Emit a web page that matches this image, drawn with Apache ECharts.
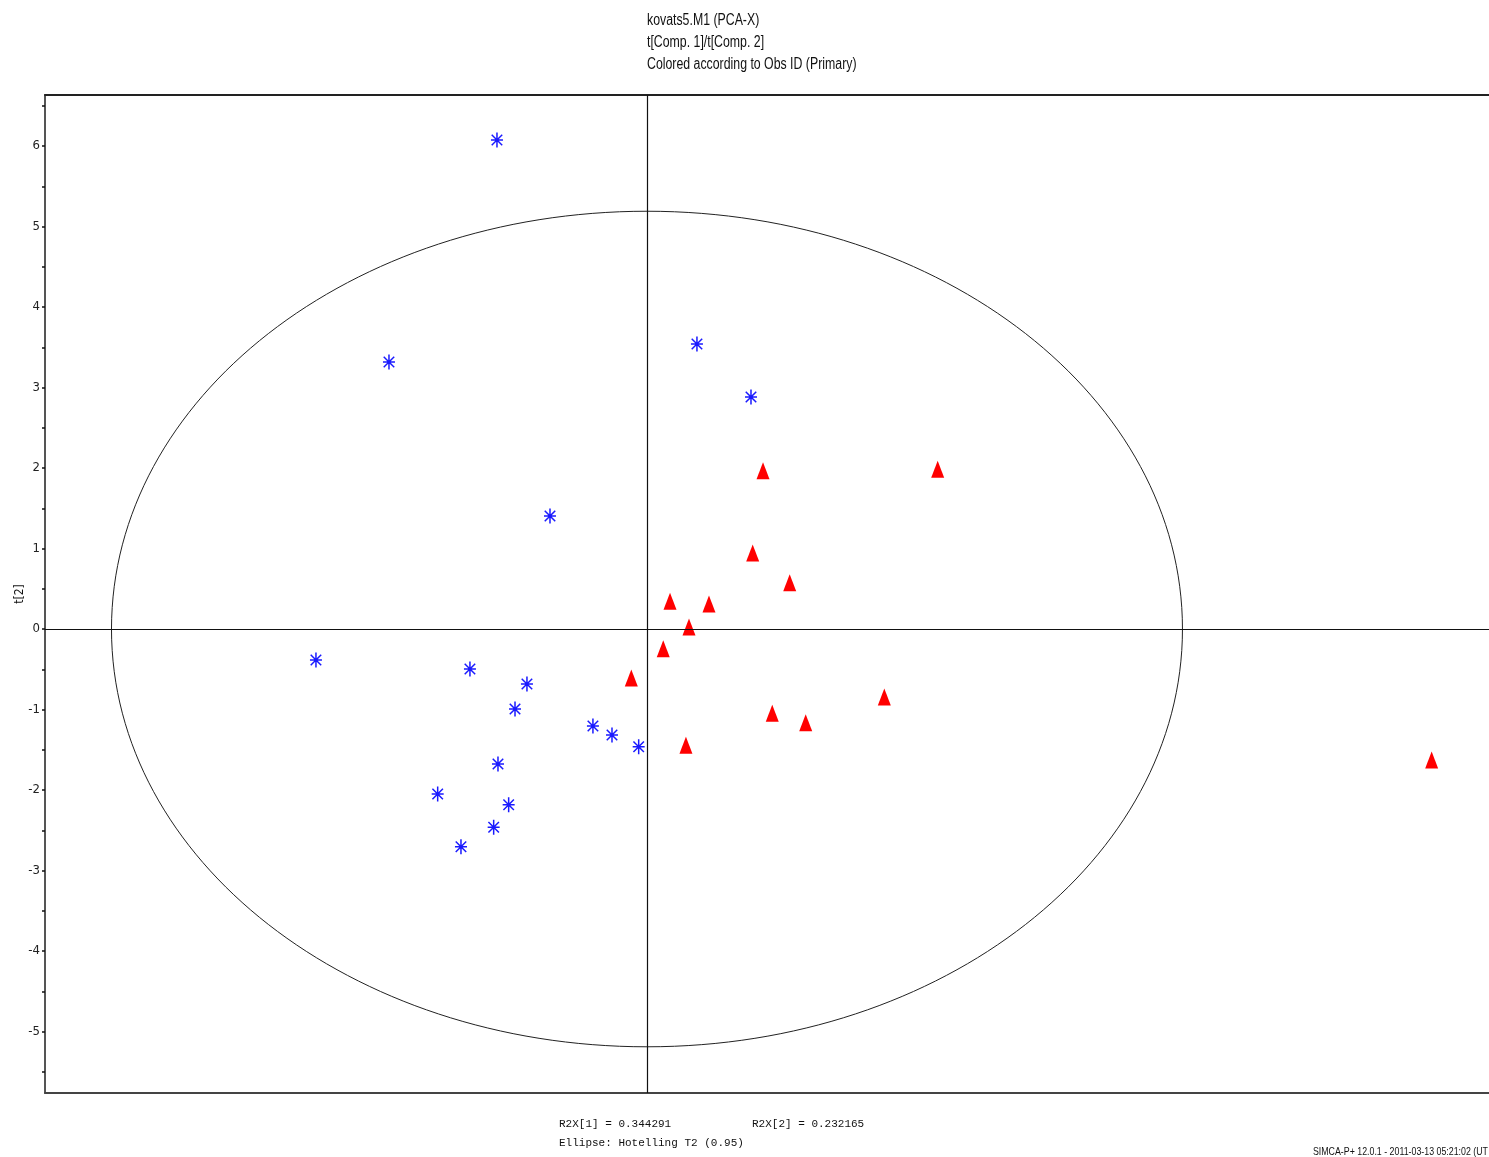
<!DOCTYPE html>
<html>
<head>
<meta charset="utf-8">
<script src="https://cdn.jsdelivr.net/npm/echarts@6/dist/echarts.min.js"></script>
<style>
html,body{margin:0;padding:0;background:#fff;}
#chart{width:1489px;height:1157px;}
</style>
</head>
<body>
<div id="chart"></div>
<script>
// ---- data (t[1], t[2]) ----
const obsBlue = [
  [-1.771, 6.075], [-3.046, 3.317], [0.590, 3.540], [1.228, 2.882], [-1.145, 1.404],
  [-3.908, -0.385], [-2.090, -0.497], [-1.417, -0.683], [-1.558, -0.994], [-0.638, -1.205],
  [-0.413, -1.317], [-0.098, -1.462], [-1.759, -1.677], [-2.471, -2.050], [-1.633, -2.183],
  [-1.810, -2.463], [-2.196, -2.704]
];
const obsRed = [
  [1.370, 1.966], [3.432, 1.984], [1.248, 0.944], [1.685, 0.575], [0.272, 0.344],
  [0.732, 0.311], [0.496, 0.025], [0.192, -0.245], [-0.185, -0.609], [2.802, -0.845],
  [1.479, -1.047], [1.874, -1.164], [0.460, -1.445], [9.264, -1.627]
];
const xRange = [-7.107, 9.941];
const yRange = [-5.764, 6.634];
const yTickValues = [-5.5,-5,-4.5,-4,-3.5,-3,-2.5,-2,-1.5,-1,-0.5,0,0.5,1,1.5,2,2.5,3,3.5,4,4.5,5,5.5,6,6.5];
const yLabelValues = [-5,-4,-3,-2,-1,0,1,2,3,4,5,6];
const ellipseRadii = [6.322, 5.19]; // Hotelling T2 (0.95)
const titleLines = ['kovats5.M1 (PCA-X)', 't[Comp. 1]/t[Comp. 2]', 'Colored according to Obs ID (Primary)'];
const footerLines = ['R2X[1] = 0.344291', 'R2X[2] = 0.232165', 'Ellipse: Hotelling T2 (0.95)'];
const stampText = 'SIMCA-P+ 12.0.1 - 2011-03-13 05:21:02 (UT';

const sans = '"Liberation Sans", Arial, sans-serif';
const cond = '"DejaVu Sans Condensed", "Liberation Sans", sans-serif';
const mono = '"Liberation Mono", "DejaVu Sans Mono", monospace';

const asterisk = 'path://M9,0 L11,0 L11,20 L9,20 Z M2,9 L18,9 L18,11 L2,11 Z ' +
  'M2.3,3.7 L3.7,2.3 L17.7,16.3 L16.3,17.7 Z M16.3,2.3 L17.7,3.7 L3.7,17.7 L2.3,16.3 Z';

const chart = echarts.init(document.getElementById('chart'), null, {renderer: 'canvas'});

const graphics = [];
titleLines.forEach(function (t, i) {
  graphics.push({type: 'text', x: 647, y: 21 + i * 22, scaleX: 0.77, silent: true,
    style: {text: t, font: '16px ' + sans, fill: '#111', textVerticalAlign: 'middle', textAlign: 'left'}});
});
graphics.push({type: 'text', x: 559, y: 1124, silent: true,
  style: {text: footerLines[0], font: '11px ' + mono, fill: '#111', textVerticalAlign: 'middle'}});
graphics.push({type: 'text', x: 752, y: 1124, silent: true,
  style: {text: footerLines[1], font: '11px ' + mono, fill: '#111', textVerticalAlign: 'middle'}});
graphics.push({type: 'text', x: 559, y: 1143, silent: true,
  style: {text: footerLines[2], font: '11px ' + mono, fill: '#111', textVerticalAlign: 'middle'}});
graphics.push({type: 'text', x: 1488, y: 1152, scaleX: 0.84, silent: true,
  style: {text: stampText, font: '10.5px ' + sans, fill: '#111', textVerticalAlign: 'middle', textAlign: 'right'}});

chart.setOption({
  animation: false,
  backgroundColor: '#fff',
  grid: {left: 45, top: 95, right: 0, bottom: 64, outerBoundsMode: 'none', containLabel: false},
  xAxis: [{
    type: 'value', min: xRange[0], max: xRange[1], position: 'bottom',
    axisLine: {show: true, onZero: false, lineStyle: {color: '#444', width: 2}},
    axisTick: {show: false}, axisLabel: {show: false}, splitLine: {show: false}
  }, {
    type: 'value', min: xRange[0], max: xRange[1], position: 'top',
    axisLine: {show: true, onZero: false, lineStyle: {color: '#222', width: 2}},
    axisTick: {show: false}, axisLabel: {show: false}, splitLine: {show: false}
  }],
  yAxis: {
    type: 'value', min: yRange[0], max: yRange[1],
    name: 't[2]', nameLocation: 'middle', nameRotate: 90, nameGap: 19, nameMoveOverlap: false,
    nameTextStyle: {fontFamily: cond, fontSize: 12, color: '#111'},
    axisLine: {show: true, onZero: false, lineStyle: {color: '#555', width: 2}},
    axisTick: {show: true, length: 3, customValues: yTickValues, lineStyle: {color: '#111', width: 1.5}},
    axisLabel: {show: true, customValues: yLabelValues, margin: 5,
      fontFamily: cond, fontSize: 13, color: '#222'},
    splitLine: {show: false}
  },
  series: [
    {
      type: 'custom',
      silent: true,
      clip: false,
      data: [[0, 0]],
      renderItem: function (params, api) {
        const c = api.coord([0, 0]);
        const r = api.coord(ellipseRadii);
        return {
          type: 'ellipse',
          shape: {cx: c[0], cy: c[1], rx: r[0] - c[0], ry: c[1] - r[1]},
          style: {fill: 'none', stroke: '#222', lineWidth: 1}
        };
      },
      z: 1
    },
    {
      type: 'scatter',
      data: obsBlue,
      symbol: asterisk,
      symbolSize: [12, 15],
      itemStyle: {color: '#1a1aff', opacity: 1},
      z: 3
    },
    {
      type: 'scatter',
      data: obsRed,
      symbol: 'triangle',
      symbolSize: [13, 17],
      itemStyle: {color: '#ff0000', opacity: 1},
      z: 3,
      markLine: {
        silent: true, symbol: 'none', animation: false,
        label: {show: false},
        lineStyle: {color: '#111', width: 1.2, type: 'solid'},
        emphasis: {disabled: true},
        data: [{xAxis: 0}, {yAxis: 0}]
      }
    }
  ],
  graphic: graphics
});
</script>
</body>
</html>
